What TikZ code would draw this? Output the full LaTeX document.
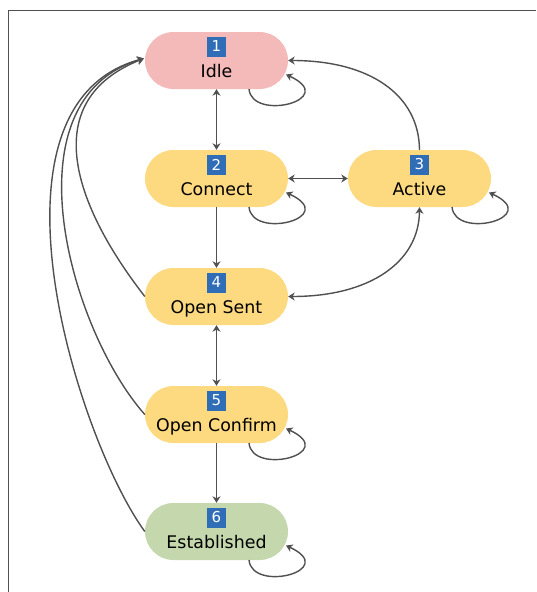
\documentclass[tikz,border=0pt]{standalone}
\usepackage{fontspec}
\setmainfont{DejaVu Sans}
\usetikzlibrary{arrows.meta,shapes.misc,calc}
\definecolor{linegray}{HTML}{505050}
\definecolor{idlepink}{HTML}{F4B9B9}
\definecolor{stateyellow}{HTML}{FDDA80}
\definecolor{estgreen}{HTML}{C5D8AD}
\definecolor{badgeblue}{HTML}{2F6DB6}
\tikzset{
  state/.style={rounded rectangle, minimum width=143pt, minimum height=57pt, inner sep=0pt, draw=none},
  badge/.style={fill=badgeblue, text=white, minimum width=19pt, minimum height=20pt, inner sep=0pt, font=\fontsize{15}{15}\selectfont},
  lbl/.style={anchor=base, inner sep=0pt, font=\fontsize{17.4}{20}\selectfont},
  tipa/.tip={Stealth[length=6.5pt,width=8pt,inset=2pt]},
  conn/.style={draw=linegray, line width=1.4pt, -tipa},
  biconn/.style={draw=linegray, line width=1.4pt, tipa-tipa},
  frameline/.style={draw=linegray, line width=1pt}
}
\newcommand\stateloop[1]{\draw[conn] ($(#1.center)+(32.5,28.5)$) .. controls +(3,33) and +(54,25) .. ($(#1.center)+(69.5,14)$);}
\newcommand\statebox[6]{%
  \node[state, fill=#5] (#1) at (#2) {};
  \node[badge] (#1b) at ($(#1.center)+(0,-14)$) {#3};
  \node[lbl] (#1l) at ($(#1.center)+(0,16.5)$) {#4};
}
\begin{document}
\begin{tikzpicture}[x=1pt,y=-1pt]
\useasboundingbox (0,0) rectangle (536,592);
\coordinate (fa) at (8,592);
\coordinate (fb) at (8,10.5);
\coordinate (fc) at (536,10.5);
\draw[frameline] (fa) -- (fb) -- (fc);

\statebox{idle}{216.5,60.5}{1}{Idle}{idlepink}{}
\statebox{conn}{216.5,178.5}{2}{Connect}{stateyellow}{}
\statebox{act}{419.5,178.5}{3}{Active}{stateyellow}{}
\statebox{osent}{216.5,296.5}{4}{Open Sent}{stateyellow}{}
\statebox{oconf}{216.5,414.5}{5}{Open Confirm}{stateyellow}{}
\statebox{est}{216.5,531.5}{6}{Established}{estgreen}{}

% straight connectors
\draw[biconn] (idle.south) -- (conn.north);
\draw[biconn] (conn.east) -- (act.west);
\draw[conn] (conn.south) -- (osent.north);
\draw[biconn] (osent.south) -- (oconf.north);
\draw[conn] (oconf.south) -- (est.north);

% curved connectors
\draw[conn] (act.north) .. controls (419,95) and (370,60.5) .. (idle.east);
\draw[biconn] (act.south) .. controls (419,262) and (370,296.5) .. (osent.east);

\coordinate (idletip) at ($(idle.west)+(-1,-2)$);
\draw[conn] (osent.west) .. controls (70,200) and (40,100) .. (idletip);
\draw[conn] (oconf.west) .. controls (70,330) and (5,100) .. (idletip);
\draw[conn] (est.west) .. controls (78,440) and (-28,105) .. (idletip);

% self loops
\stateloop{idle}
\stateloop{conn}
\stateloop{act}
\stateloop{oconf}
\stateloop{est}
\end{tikzpicture}
\end{document}
